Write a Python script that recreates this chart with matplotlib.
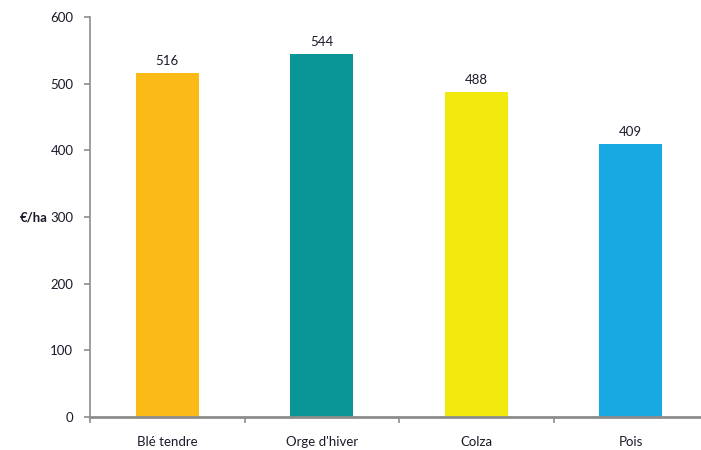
import matplotlib
matplotlib.use("Agg")
import matplotlib.pyplot as plt
from matplotlib.ticker import FixedLocator

# Données
cultures = ["Blé tendre", "Orge d'hiver", "Colza", "Pois"]
valeurs = [516, 544, 488, 409]
couleurs = ["#FBBA16", "#0A9696", "#F2E90F", "#17A9E1"]

plt.rcParams['font.family'] = ['Lato', 'DejaVu Sans']
texte = "#1A1A2A"
gris = "#8C8C8C"
taille = 9.5

fig = plt.figure(figsize=(7.01, 4.5), dpi=100)
ax = fig.add_axes([90/701, 33/450, 618/701, 400/450])

x = range(len(cultures))
barres = ax.bar(x, valeurs, width=0.41, color=couleurs)

# Étiquettes de valeurs
for xi, v in zip(x, valeurs):
    ax.text(xi, v + 9, str(v), ha='center', va='bottom', fontsize=taille, color=texte)

ax.set_xlim(-0.5, len(cultures) - 0.5)
ax.set_ylim(0, 600)
ax.set_yticks(range(0, 601, 100))

# Graduations entre les catégories, noms au centre
ax.xaxis.set_major_locator(FixedLocator([i - 0.5 for i in range(len(cultures) + 1)]))
ax.xaxis.set_major_formatter(plt.NullFormatter())
ax.xaxis.set_minor_locator(FixedLocator(list(x)))
ax.set_xticklabels(cultures, minor=True)
ax.tick_params(axis='x', which='minor', length=0, pad=14, labelsize=taille, labelcolor=texte)
ax.tick_params(axis='x', which='major', length=4, color=gris, width=1.2)
ax.tick_params(axis='y', length=4, color=gris, width=1.2, pad=8, labelsize=taille, labelcolor=texte)

for s in ['top', 'right']:
    ax.spines[s].set_visible(False)
ax.spines['left'].set_color(gris)
ax.spines['bottom'].set_color(gris)
ax.spines['left'].set_linewidth(1.2)
ax.spines['bottom'].set_linewidth(2)

fig.text(20/701, 1 - 217/450, "€/ha", fontsize=taille, fontweight='bold', color=texte, va='center', ha='left')

plt.savefig("out.png", dpi=100)
plt.close()
